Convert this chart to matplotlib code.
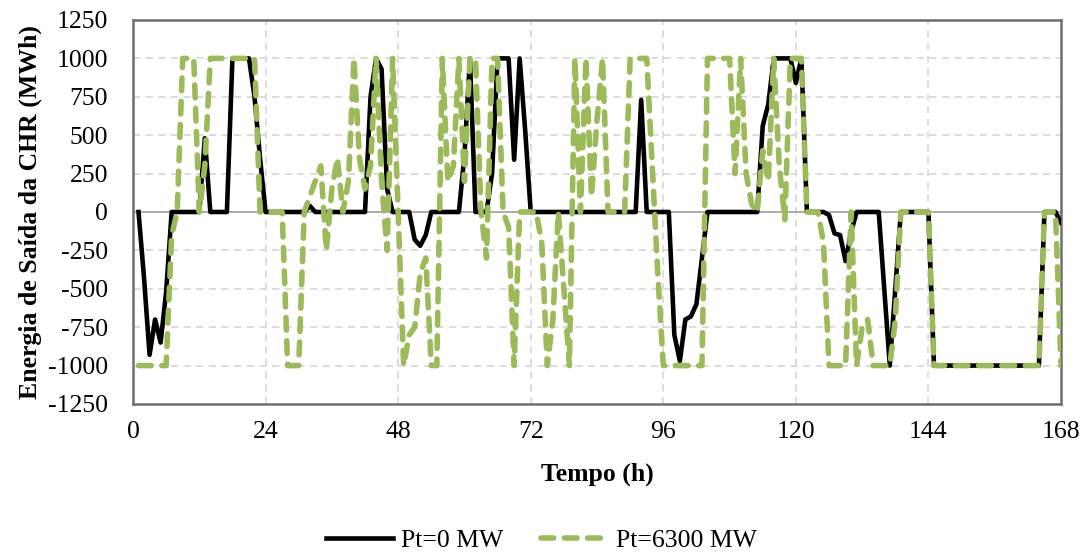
import numpy as np
import matplotlib
matplotlib.use('Agg')
import matplotlib.pyplot as plt

plt.rcParams['font.family'] = ['Liberation Serif', 'DejaVu Serif']
plt.rcParams['axes.unicode_minus'] = False

hours = np.arange(1, 169)

# Pt=0 MW (hourly, h1..h168)
pt0 = [0, -430, -930, -700, -850, -520, 0, 0, 0, 0,
       0, 0, 480, 0, 0, 0, 0, 1000, 1000, 1000,
       1000, 750, 350, 0, 0, 0, 0, 0, 0, 0,
       0, 40, 0, 0, 0, 0, 0, 0, 0, 0,
       0, 0, 750, 1000, 930, 150, 0, 0, 0, 0,
       -180, -220, -150, 0, 0, 0, 0, 0, 0, 370,
       1000, 0, 0, 0, 250, 1000, 1000, 1000, 340, 1000,
       530, 0, 0, 0, 0, 0, 0, 0, 0, 0,
       0, 0, 0, 0, 0, 0, 0, 0, 0, 0,
       0, 730, 0, 0, 0, 0, 0, -800, -970, -700,
       -680, -600, -300, 0, 0, 0, 0, 0, 0, 0,
       0, 0, 0, 560, 700, 1000, 1000, 1000, 1000, 840,
       1000, 0, 0, 0, 0, -20, -140, -150, -320, -130,
       0, 0, 0, 0, 0, -500, -1000, -500, 0, 0,
       0, 0, 0, 0, -1000, -1000, -1000, -1000, -1000, -1000,
       -1000, -1000, -1000, -1000, -1000, -1000, -1000, -1000, -1000, -1000,
       -1000, -1000, -1000, -1000, 0, 0, 0, -70]

# Pt=6300 MW (hourly, h1..h168)
pt6300 = [-1000, -1000, -1000, -1000, -1000, -1000, -150, 0, 1000, 1000,
          1000, 0, 300, 1000, 1000, 1000, 1000, 1000, 1000, 1000,
          1000, 1000, 0, 0, 0, 0, 0, -1000, -1000, -1000,
          0, 100, 200, 300, -250, 150, 350, 0, 200, 1000,
          350, 150, 300, 1000, 200, -250, 1000, 0, -1000, -800,
          -750, -400, -300, -1000, -1000, 1000, 200, 300, 1000, 200,
          1000, 1000, 0, -300, 1000, 1000, 0, -100, -1000, 0,
          0, 0, 0, -200, -1000, -700, 0, -500, -1000, 1000,
          0, 1000, 100, 600, 1000, 0, 0, 0, 0, 1000,
          1000, 1000, 1000, 300, -400, -1000, -1000, -1000, -1000, -1000,
          -1000, -1000, -1000, 1000, 1000, 1000, 1000, 1000, 250, 1000,
          250, 50, 0, 400, 200, 1000, 300, -50, 1000, 1000,
          1000, 0, 0, 0, -200, -1000, -1000, -1000, -1000, 0,
          -1000, -750, -700, -1000, -1000, -1000, -1000, -700, 0, 0,
          0, 0, 0, 0, -1000, -1000, -1000, -1000, -1000, -1000,
          -1000, -1000, -1000, -1000, -1000, -1000, -1000, -1000, -1000, -1000,
          -1000, -1000, -1000, -1000, 0, 0, 0, -1000]

fig = plt.figure(figsize=(10.83, 5.54), dpi=100)
ax = fig.add_axes([0.1228, 0.2708, 0.8569, 0.6931])

ax.plot(hours, pt0, color='black', lw=3.3, label='Pt=0 MW', zorder=3)
ax.plot(hours, pt6300, color='#9BBB59', lw=4.0, ls=(0, (2.3, 1.9)),
        dash_capstyle='round', label='Pt=6300 MW', zorder=4)

ax.set_xlim(0, 168)
ax.set_ylim(-1250, 1250)
ax.set_xticks(range(0, 169, 24))
ax.set_yticks(range(-1250, 1251, 250))

for y in range(-1250, 1251, 250):
    if y not in (0, -1250, 1250):
        ax.axhline(y, color='#D9D9D9', lw=1.3, ls=(0, (4, 3)), zorder=1)
for x in range(24, 168, 24):
    ax.axvline(x, color='#D9D9D9', lw=1.3, ls=(0, (4, 3)), zorder=1)
ax.axhline(0, color='#A6A6A6', lw=1.3, zorder=2)

for s in ax.spines.values():
    s.set_color('#6E6E6E')
    s.set_linewidth(1.8)

ax.tick_params(axis='both', length=0, labelsize=18.5)
ax.tick_params(axis='y', pad=18)
ax.tick_params(axis='x', pad=12)

ax.set_xlabel('Tempo (h)', fontsize=18.5, fontweight='bold', labelpad=14)
ax.set_ylabel('Energia de Saída da CHR (MWh)', fontsize=18.5, fontweight='bold', labelpad=4)

fig.legend(loc='lower center', bbox_to_anchor=(0.5, -0.038), ncol=2, frameon=False,
           fontsize=18.5, handlelength=2.6, handletextpad=0.3, columnspacing=1.5)

fig.savefig('out.png', dpi=100)
